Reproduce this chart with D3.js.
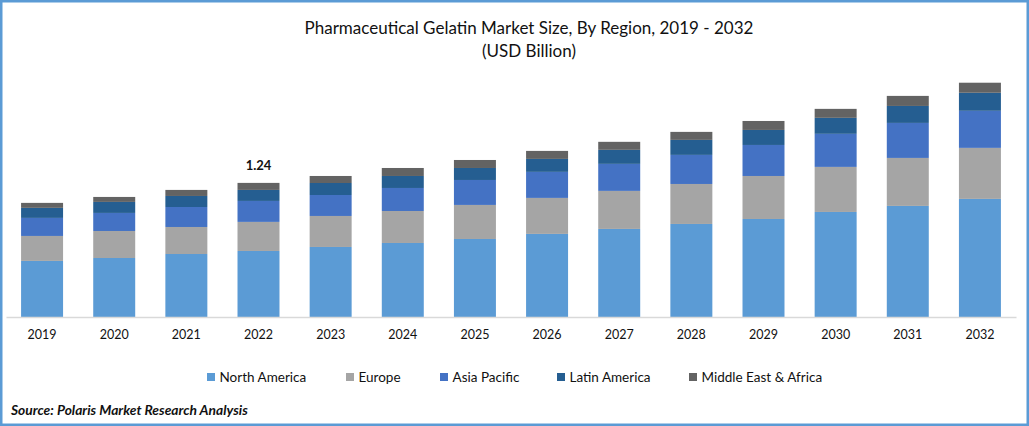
<!DOCTYPE html>
<html>
<head>
<meta charset="utf-8">
<script src="https://cdn.jsdelivr.net/npm/d3@7"></script>
<style>
html, body { margin: 0; padding: 0; background: #fff; }
svg { display: block; font-family: Lato, "Noto Sans", sans-serif; }
</style>
</head>
<body>
<div id="chartDiv"></div>
<script>
"use strict";
var years = ["2019", "2020", "2021", "2022", "2023", "2024", "2025", "2026", "2027", "2028", "2029", "2030", "2031", "2032"],
    regions = ["North America", "Europe", "Asia Pacific", "Latin America", "Middle East & Africa"],
    colors = ["#5b9bd5", "#a5a5a5", "#4472c4", "#255e91", "#636363"];

// values, USD billion
var northAmerica = [0.519, 0.546, 0.583, 0.611, 0.648, 0.685, 0.722, 0.769, 0.815, 0.861, 0.907, 0.972, 1.028, 1.093],
    europe = [0.231, 0.25, 0.25, 0.269, 0.287, 0.296, 0.315, 0.333, 0.352, 0.37, 0.398, 0.417, 0.444, 0.472],
    asiaPacific = [0.167, 0.167, 0.185, 0.194, 0.194, 0.213, 0.231, 0.241, 0.25, 0.269, 0.287, 0.306, 0.324, 0.343],
    latinAmerica = [0.093, 0.102, 0.102, 0.102, 0.111, 0.111, 0.111, 0.12, 0.13, 0.139, 0.139, 0.148, 0.157, 0.167],
    middleEast = [0.046, 0.046, 0.056, 0.065, 0.065, 0.074, 0.074, 0.074, 0.074, 0.074, 0.083, 0.083, 0.093, 0.093],
    seriesValues = [northAmerica, europe, asiaPacific, latinAmerica, middleEast];

var width = 1029,
    height = 426;

var svg = d3.select("#chartDiv").append("svg")
    .attr("width", width)
    .attr("height", height);

// frame
svg.append("rect")
    .attr("x", 1.25).attr("y", 1.25)
    .attr("width", width - 2.5).attr("height", height - 2.5)
    .attr("fill", "#fff")
    .attr("stroke", "#5b9bd5")
    .attr("stroke-width", 2.5);

// scales
var x = d3.scaleBand()
    .domain(years)
    .range([6, 1016])
    .paddingInner(0.418)
    .paddingOuter(0.209);

var y = d3.scaleLinear()
    .domain([0, 1.24])
    .range([317, 183]);

// stacked table built from the arrays
var table = years.map(function(year, i) {
    var row = {year: year};
    regions.forEach(function(region, r) { row[region] = seriesValues[r][i]; });
    return row;
});

var stacked = d3.stack().keys(regions)(table);

svg.selectAll("g.series")
    .data(stacked)
    .join("g")
    .attr("class", "series")
    .attr("fill", function(d, i) { return colors[i]; })
    .selectAll("rect")
    .data(function(d) { return d; })
    .join("rect")
    .attr("x", function(d) { return x(d.data.year); })
    .attr("y", function(d) { return y(d[1]); })
    .attr("width", x.bandwidth())
    .attr("height", function(d) { return y(d[0]) - y(d[1]); });

// axis
var axis = svg.append("g")
    .attr("transform", "translate(0,317)")
    .call(d3.axisBottom(x).tickSize(0).tickPadding(13));
axis.select(".domain").attr("stroke", "#d9d9d9").attr("stroke-width", 1.5);
axis.selectAll("text")
    .attr("font-family", "Lato, sans-serif")
    .attr("font-size", 12.5)
    .attr("fill", "#111");

// label on 2022
svg.append("text")
    .attr("x", x("2022") + x.bandwidth() / 2)
    .attr("y", 170)
    .attr("text-anchor", "middle")
    .attr("font-size", 13)
    .attr("font-weight", "bold")
    .attr("fill", "#111")
    .text("1.24");

// title
svg.append("text")
    .attr("x", 529).attr("y", 34)
    .attr("text-anchor", "middle")
    .attr("font-size", 17)
    .attr("fill", "#111")
    .text("Pharmaceutical Gelatin Market Size, By Region, 2019 - 2032");
svg.append("text")
    .attr("x", 529).attr("y", 57)
    .attr("text-anchor", "middle")
    .attr("font-size", 17)
    .attr("fill", "#111")
    .text("(USD Billion)");

// legend
var legendX = d3.scaleOrdinal().domain(regions).range([207, 346, 440, 557, 689]);

var legend = svg.selectAll("g.legend")
    .data(regions)
    .join("g")
    .attr("class", "legend")
    .attr("transform", function(d) { return "translate(" + legendX(d) + ",373)"; });
legend.append("rect")
    .attr("width", 8).attr("height", 8)
    .attr("fill", function(d, i) { return colors[i]; });
legend.append("text")
    .attr("x", 12.5).attr("y", 8.5)
    .attr("font-size", 13.5)
    .attr("fill", "#111")
    .text(function(d) { return d; });

// source
svg.append("text")
    .attr("x", 11).attr("y", 415)
    .attr("font-size", 13.8)
    .attr("font-weight", "bold")
    .attr("font-style", "italic")
    .attr("fill", "#111")
    .text("Source: Polaris  Market Research Analysis");
</script>
</body>
</html>
